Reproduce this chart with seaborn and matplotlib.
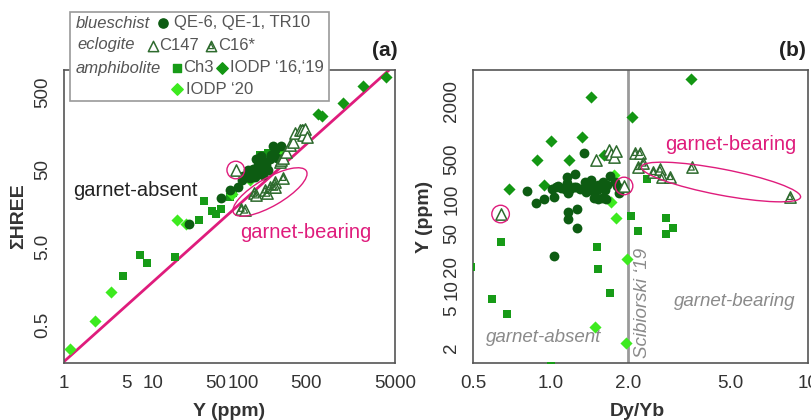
import numpy as np
import matplotlib
matplotlib.use("Agg")
import matplotlib.pyplot as plt
import seaborn as sns
from matplotlib.patches import Ellipse, Rectangle
from matplotlib.ticker import FixedLocator, FixedFormatter, NullLocator

# ---------------- data: panel (a)  Y (ppm) vs sum HREE ----------------
a_blue_y = [25.1, 56.3, 71.6, 88.5, 98.4, 114, 130, 135, 155, 183, 218, 268, 470, 147,
            168, 199, 162, 121, 110, 238, 141, 125, 150, 175, 205, 230, 190, 100, 160]
a_blue_h = [9.9, 21.9, 27.3, 30, 36.5, 49.5, 50.8, 40.5, 49.5, 57.7, 101, 101, 167, 57.7,
            42.6, 69, 63, 38.5, 40.5, 70, 69, 45, 55, 62, 78, 90, 50, 42, 75]
a_ch3_y = [4.6, 7.06, 8.4, 17.3, 32.4, 36.6, 45.2, 50.6, 56.2, 71.6, 77, 141, 155, 190, 238]
a_ch3_h = [2.15, 4.01, 3.14, 3.7, 11.4, 19.7, 14.8, 13.6, 15.5, 22.5, 25, 47, 77.6, 81.5, 85]
a_iodp16_y = [688, 760, 1300, 2200, 4000]
a_iodp16_h = [260, 244, 359, 597, 770]
a_iodp20_y = [1.17, 2.22, 3.33, 18.1, 23.0, 75, 119, 255]
a_iodp20_h = [0.245, 0.56, 1.34, 11.2, 10.0, 24.6, 36.6, 84]
a_c147_y = [260, 268, 282, 306, 334, 364, 380, 432, 455, 470, 492, 516, 83]
a_c147_h = [63, 66, 70, 85, 105, 114, 147, 162, 160, 138, 167, 131, 49.5]
a_ring_y = [83]
a_ring_h = [49.5]
a_c16_y = [96, 105, 133, 141, 176, 186, 200, 218, 228, 228, 282]
a_c16_h = [15.8, 15, 24.7, 23.5, 27.3, 24.7, 30, 30, 34.7, 29.5, 39.5]
a_line_y = [1, 4300]
a_line_h = [0.169, 960]
a_xticks = [1, 5, 10, 50, 100, 500, 5000]
a_xlabels = ["1", "5", "10", "50", "100", "500", "5000"]
a_yticks = [0.5, 5, 50, 500]
a_ylabels = ["0.5", "5.0", "50", "500"]

# ---------------- data: panel (b)  Dy/Yb vs Y (ppm) ----------------
b_blue_x = [1.35, 0.81, 0.88, 0.94, 1.03, 1.01, 1.07, 1.10, 1.16, 1.19, 1.17, 1.23, 1.24, 1.16,
            1.26, 1.36, 1.38, 1.42, 1.44, 1.47, 1.51, 1.53, 1.58, 1.60, 1.63, 1.65, 1.70, 1.78,
            1.81, 1.85, 1.48, 1.53, 1.59, 1.64, 1.37, 1.17, 1.27, 1.17, 1.27, 1.30, 1.14, 1.05,
            1.03]
b_blue_y = [588, 139, 92.7, 99.3, 107, 148, 170, 155, 190, 148, 126, 161, 277, 242,
            165, 202, 155, 177, 217, 135, 144, 177, 155, 202, 144, 177, 255, 202,
            170, 126, 103, 99.3, 103, 101, 135, 77.3, 81, 66.7, 55.2, 148, 148, 161,
            26.8]
b_ch3_x = [0.49, 0.594, 0.64, 0.676, 1.0, 1.51, 1.53, 1.70, 2.05, 2.19, 2.37, 2.8, 2.82, 3.0]
b_ch3_y = [20, 7.24, 39.7, 4.57, 1.3, 34.6, 18.7, 8.79, 71.3, 52.4, 223, 48.6, 67.7, 56]
b_iodp16_x = [0.69, 0.885, 0.94, 1.0, 1.18, 1.32, 1.43, 1.62, 2.08, 3.5]
b_iodp16_y = [148, 500, 177, 781, 500, 859, 2180, 556, 1380, 3350]
b_iodp20_x = [1.49, 1.71, 1.77, 1.79, 1.97, 1.98]
b_iodp20_y = [3.37, 94.6, 266, 67.7, 2.28, 24.5]
b_c147_x = [1.50, 1.68, 1.72, 1.76, 1.80, 0.64, 1.93]
b_c147_y = [500, 620, 570, 530, 610, 73.8, 170]
b_ring_x = [0.64, 1.93]
b_ring_y = [73.8, 170]
b_c16_x = [2.13, 2.22, 2.19, 2.29, 2.51, 2.66, 2.70, 2.92, 3.53, 8.5]
b_c16_y = [588, 588, 373, 428, 304, 336, 242, 248, 364, 110]
b_threshold = 2.0
b_xticks = [0.5, 1.0, 2.0, 5.0, 10]
b_xlabels = ["0.5", "1.0", "2.0", "5.0", "10"]
b_yticks = [2, 5, 10, 20, 50, 100, 500, 2000]
b_ylabels = ["2", "5", "10", "20", "50", "100", "500", "2000"]

# ---------------- style ----------------
sns.set_style("white")
plt.rcParams["font.family"] = ["Liberation Sans", "DejaVu Sans"]

DARK = "#0d5c12"
MED = "#179b17"
DIA = "#139613"
BRIGHT = "#3dea1f"
TRI = "#2e6b2e"
MAG = "#df1c7c"
SPINE = "#555555"
TXT = "#333333"
GREY = "#8a8a8a"

fig = plt.figure(figsize=(8.12, 4.2), dpi=100)
W, H = 812.0, 420.0
ax_a = fig.add_axes([64 / W, (H - 363) / H, 331 / W, 293 / H])
ax_b = fig.add_axes([473 / W, (H - 363) / H, 335 / W, 293 / H])


def style_axes(ax):
    for s in ax.spines.values():
        s.set_visible(True)
        s.set_color(SPINE)
        s.set_linewidth(1.2)
    ax.tick_params(direction="in", length=7, width=1.1, color=SPINE,
                   labelsize=13.5, labelcolor=TXT, pad=9)
    ax.xaxis.set_minor_locator(NullLocator())
    ax.yaxis.set_minor_locator(NullLocator())
    for lab in ax.get_yticklabels():
        lab.set_rotation(90)
        lab.set_va("center")


def pts(ax, x, y, marker, face, edge, s, lw=0.0, z=3):
    sns.scatterplot(x=x, y=y, ax=ax, marker=marker, color=face, edgecolor=edge,
                    s=s, linewidth=lw, zorder=z, legend=False)


def c16(ax, x, y):
    pts(ax, x, y, "^", "white", TRI, 66, 1.1, 5)
    pts(ax, x, y, "^", "none", TRI, 16, 0.9, 6)


# ---------------- panel (a) ----------------
ax_a.set_xscale("log")
ax_a.set_yscale("log")
ax_a.plot(a_line_y, a_line_h, color=MAG, lw=2.0, zorder=2)
pts(ax_a, a_ch3_y, a_ch3_h, "s", MED, MED, 40)
pts(ax_a, a_iodp16_y, a_iodp16_h, "D", DIA, DIA, 38)
pts(ax_a, a_iodp20_y, a_iodp20_h, "D", BRIGHT, BRIGHT, 38)
pts(ax_a, a_blue_y, a_blue_h, "o", DARK, DARK, 50, z=4)
pts(ax_a, a_c147_y, a_c147_h, "^", "white", TRI, 66, 1.1, 5)
c16(ax_a, a_c16_y, a_c16_h)
ax_a.scatter(a_ring_y, a_ring_h, s=160, facecolors="none", edgecolors=MAG, linewidths=1.0, zorder=6)
ax_a.set_xlim(1, 5000)
ax_a.set_ylim(0.162, 960)
ax_a.xaxis.set_major_locator(FixedLocator(a_xticks))
ax_a.xaxis.set_major_formatter(FixedFormatter(a_xlabels))
ax_a.yaxis.set_major_locator(FixedLocator(a_yticks))
ax_a.yaxis.set_major_formatter(FixedFormatter(a_ylabels))
ax_a.set_xlabel("Y (ppm)", fontsize=14, fontweight="bold", color=TXT)
ax_a.set_ylabel("ΣHREE", fontsize=14, fontweight="bold", color=TXT)
style_axes(ax_a)
ax_a.xaxis.set_label_coords(0.5, -0.135)
ax_a.yaxis.set_label_coords(-0.112, 0.5)

# ---------------- panel (b) ----------------
_K = np.log10(np.array(b_yticks, dtype=float))
_P = np.array([15, 52.3, 73.7, 96.3, 129.7, 164.0, 203.5, 262.0])
_Kx = np.concatenate([[_K[0] - 3], _K, [_K[-1] + 3]])
_Px = np.concatenate([[_P[0] - 3 * 94.5], _P, [_P[-1] + 3 * 97.0]])


def fwd(v):
    v = np.asarray(v, dtype=float)
    return np.interp(np.log10(np.clip(v, 1e-9, None)), _Kx, _Px)


def inv(p):
    return 10 ** np.interp(np.asarray(p, dtype=float), _Px, _Kx)


ax_b.set_xscale("log")
ax_b.set_yscale("function", functions=(fwd, inv))
ax_b.axvline(b_threshold, color="#9a9a9a", lw=2.0, zorder=1)
pts(ax_b, b_ch3_x, b_ch3_y, "s", MED, MED, 40)
pts(ax_b, b_iodp16_x, b_iodp16_y, "D", DIA, DIA, 38)
pts(ax_b, b_iodp20_x, b_iodp20_y, "D", BRIGHT, BRIGHT, 38)
pts(ax_b, b_blue_x, b_blue_y, "o", DARK, DARK, 50, z=4)
pts(ax_b, b_c147_x, b_c147_y, "^", "white", TRI, 66, 1.1, 5)
c16(ax_b, b_c16_x, b_c16_y)
ax_b.scatter(b_ring_x, b_ring_y, s=160, facecolors="none", edgecolors=MAG, linewidths=1.0, zorder=6)
ax_b.set_xlim(0.5, 10)
ax_b.set_ylim(float(inv(0)), float(inv(293)))
ax_b.xaxis.set_major_locator(FixedLocator(b_xticks))
ax_b.xaxis.set_major_formatter(FixedFormatter(b_xlabels))
ax_b.yaxis.set_major_locator(FixedLocator(b_yticks))
ax_b.yaxis.set_major_formatter(FixedFormatter(b_ylabels))
ax_b.set_xlabel("Dy/Yb", fontsize=14, fontweight="bold", color=TXT)
ax_b.set_ylabel("Y (ppm)", fontsize=14, fontweight="bold", color=TXT)
style_axes(ax_b)
ax_b.xaxis.set_label_coords(0.49, -0.135)
ax_b.yaxis.set_label_coords(-0.119, 0.5)

# ---------------- overlay for annotations / legend (pixel coords) ----------------
ov = fig.add_axes([0, 0, 1, 1], zorder=10)
ov.set_xlim(0, W)
ov.set_ylim(H, 0)
ov.axis("off")
ov.patch.set_alpha(0)

ov.add_patch(Ellipse((270, 192), 2 * 42, 2 * 14, angle=-30, fill=False, ec=MAG, lw=1.0))
ov.add_patch(Ellipse((721, 182), 2 * 81, 2 * 13, angle=10.8, fill=False, ec=MAG, lw=1.0))

ov.text(73, 190, "garnet-absent", fontsize=14.5, color="#222222", ha="left", va="center")
ov.text(306, 233, "garnet-bearing", fontsize=14.5, color=MAG, ha="center", va="center")
ov.text(731, 144, "garnet-bearing", fontsize=14.5, color=MAG, ha="center", va="center")
ov.text(735, 302, "garnet-bearing", fontsize=13.5, color=GREY, style="italic", ha="center", va="center")
ov.text(544, 338, "garnet-absent", fontsize=13.5, color=GREY, style="italic", ha="center", va="center")
ov.text(643, 303, "Scibiorski \u201819", fontsize=13.5, color=GREY, style="italic",
        rotation=90, ha="center", va="center")
ov.text(385, 51, "(a)", fontsize=15, fontweight="bold", color="#222222", ha="center", va="center")
ov.text(792, 50, "(b)", fontsize=15, fontweight="bold", color="#222222", ha="center", va="center")

# legend box
ov.add_patch(Rectangle((70, 12), 259, 89, fill=True, fc="white", ec="#9a9a9a", lw=1.2, zorder=1))
LT = "#555555"
LFS = 12
ov.text(76, 23, "blueschist", fontsize=LFS, color=LT, style="italic", ha="left", va="center", zorder=3)
ov.scatter([163], [23], marker="o", s=44, color=DARK, zorder=3)
ov.text(174, 23, "QE-6, QE-1, TR10", fontsize=LFS, color=LT, ha="left", va="center", zorder=3)
ov.text(77, 45, "eclogite", fontsize=LFS, color=LT, style="italic", ha="left", va="center", zorder=3)
ov.scatter([153], [46], marker="^", s=55, facecolors="white", edgecolors=TRI, linewidths=1.1, zorder=3)
ov.text(159, 45, "C147", fontsize=LFS, color=LT, ha="left", va="center", zorder=3)
ov.scatter([211], [46], marker="^", s=55, facecolors="white", edgecolors=TRI, linewidths=1.1, zorder=3)
ov.scatter([211], [46], marker="^", s=14, facecolors="none", edgecolors=TRI, linewidths=0.9, zorder=4)
ov.text(218, 45, "C16*", fontsize=LFS, color=LT, ha="left", va="center", zorder=3)
ov.text(76, 68, "amphibolite", fontsize=LFS, color=LT, style="italic", ha="left", va="center", zorder=3)
ov.scatter([177], [68], marker="s", s=36, color=MED, zorder=3)
ov.text(183, 68, "Ch3", fontsize=LFS, color=LT, ha="left", va="center", zorder=3)
ov.scatter([222], [68], marker="D", s=34, color=DIA, zorder=3)
ov.text(230, 68, "IODP \u201816,\u201819", fontsize=LFS, color=LT, ha="left", va="center", zorder=3)
ov.scatter([177], [89], marker="D", s=34, color=BRIGHT, zorder=3)
ov.text(186, 89, "IODP \u201820", fontsize=LFS, color=LT, ha="left", va="center", zorder=3)

fig.savefig("out.png", dpi=100)
